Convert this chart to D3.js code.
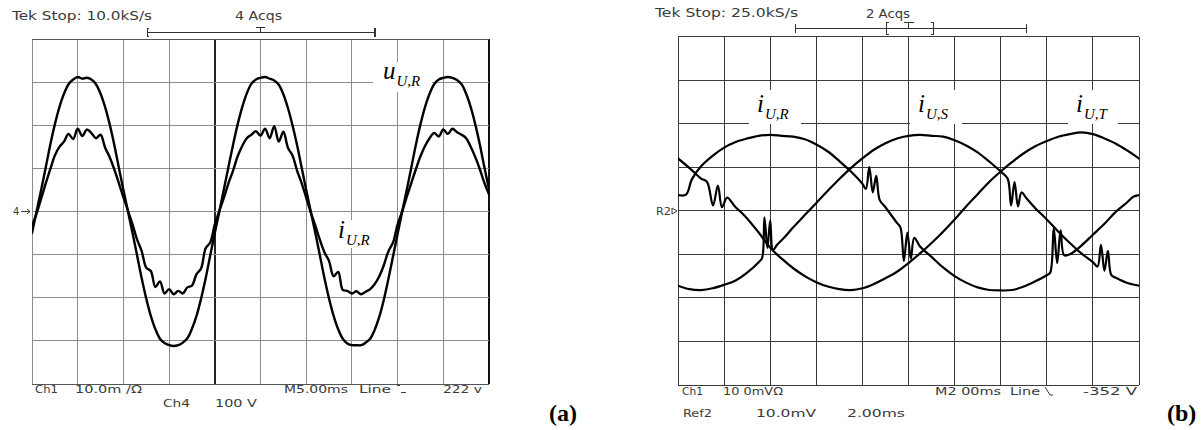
<!DOCTYPE html>
<html><head><meta charset="utf-8">
<script src="https://cdn.jsdelivr.net/npm/d3@7"></script>
<style>html,body{margin:0;padding:0;background:#fff;} svg{display:block}</style>
</head><body><svg id="c" width="1202" height="430"></svg>
<script>
// ---------------- DATA (values in scope divisions) ----------------
// Panel (a): sample step 0.5 ms, 0..50 ms
const leftStepMs = 0.5;
const leftU = [
  -0.50, 0.00, 0.50, 1.02, 1.55, 2.02, 2.42, 2.73, 2.95, 3.06, 3.12, 3.08, 3.10, 3.06, 2.95, 2.73, 2.42, 2.02, 1.55, 1.02,
   0.50, 0.00,-0.50,-1.02,-1.55,-2.02,-2.42,-2.73,-2.95,-3.05,-3.10,-3.12,-3.10,-3.04,-2.94,-2.72,-2.42,-2.02,-1.55,-1.02,
  -0.50, 0.00, 0.52, 1.04, 1.55, 2.02, 2.42, 2.74, 2.96, 3.06, 3.10, 3.12, 3.08, 3.04, 2.94, 2.72, 2.40, 2.00, 1.54, 1.02,
   0.50, 0.00,-0.50,-1.02,-1.55,-2.02,-2.42,-2.73,-2.95,-3.06,-3.10,-3.10,-3.10,-3.04,-2.95,-2.74,-2.44,-2.04,-1.56,-1.04,
  -0.52, 0.00, 0.50, 1.02, 1.55, 2.02, 2.42, 2.73, 2.95, 3.06, 3.10, 3.12, 3.10, 3.05, 2.95, 2.73, 2.42, 2.02, 1.55, 1.02, 0.52
];
const leftI = [
  -0.33,-0.05, 0.30, 0.65, 0.98, 1.30, 1.50, 1.62, 1.80, 1.68, 1.92, 1.75, 1.90, 1.82, 1.70, 1.78, 1.48, 1.26, 0.98, 0.66,
   0.33, 0.02,-0.30,-0.65,-0.92,-1.30,-1.38,-1.75,-1.62,-1.90,-1.80,-1.92,-1.84,-1.90,-1.76,-1.72,-1.45,-1.32,-0.85,-0.72,
  -0.30, 0.02, 0.32, 0.66, 0.95, 1.28, 1.52, 1.70, 1.78, 1.86, 1.76, 1.92, 1.70, 1.98, 1.62, 1.85, 1.48, 1.30, 0.95, 0.66,
   0.32,-0.02,-0.33,-0.66,-0.95,-1.15,-1.50,-1.40,-1.82,-1.84,-1.90,-1.85,-1.92,-1.86,-1.80,-1.68,-1.50,-1.24,-0.92,-0.72,
  -0.30, 0.00, 0.34, 0.66, 0.98, 1.28, 1.52, 1.70, 1.82, 1.74, 1.90, 1.80, 1.92, 1.84, 1.78, 1.70, 1.50, 1.26, 0.98, 0.66, 0.40
];
// Panel (b): [time ms, divisions], 0..20 ms
const rightIUR = [[0,0.36],[0.35,0.37],[0.6,0.72],[1,1.02],[1.5,1.26],[2,1.45],[2.5,1.58],[3,1.66],[3.5,1.72],[4,1.74],[4.5,1.72],
  [5,1.70],[5.5,1.64],[6,1.52],[6.5,1.36],[7,1.14],[7.5,0.9],[8,0.62],[8.15,0.5],[8.3,1.0],[8.45,0.42],[8.6,0.8],[8.75,0.25],
  [9,0.08],[9.5,-0.28],[9.65,-0.38],[9.8,-1.15],[9.95,-0.5],[10.1,-1.1],[10.25,-0.62],[10.5,-0.82],[11,-1.06],[11.5,-1.3],
  [12,-1.5],[12.5,-1.65],[13,-1.76],[13.5,-1.82],[14,-1.83],[14.5,-1.82],[15,-1.74],[15.5,-1.62],[16,-1.48],[16.15,-1.42],
  [16.3,-0.4],[16.45,-1.2],[16.6,-0.45],[16.75,-1.02],[17,-1.0],[17.5,-0.8],[18,-0.55],[18.5,-0.3],[19,-0.02],[19.5,0.2],[19.75,0.32],[20,0.36]];
const rightIUS = [[0,-1.72],[0.5,-1.8],[1,-1.82],[1.5,-1.78],[2,-1.7],[2.5,-1.6],[3,-1.42],[3.5,-1.18],[3.65,-1.08],[3.75,-0.15],
  [3.88,-0.85],[4.0,-0.22],[4.12,-0.9],[4.3,-0.78],[4.6,-0.62],[5,-0.38],[5.5,-0.1],[6,0.18],[6.5,0.46],[7,0.73],[7.5,0.98],
  [8,1.2],[8.5,1.4],[9,1.55],[9.5,1.66],[10,1.72],[10.5,1.74],[11,1.72],[11.5,1.7],[12,1.62],[12.5,1.5],[13,1.34],[13.5,1.13],
  [14,0.9],[14.3,0.74],[14.45,0.12],[14.6,0.66],[14.75,0.1],[14.9,0.42],[15.1,0.3],[15.5,0.06],[16,-0.2],[16.5,-0.48],[17,-0.74],
  [17.5,-0.98],[18,-1.18],[18.2,-1.28],[18.35,-0.78],[18.5,-1.38],[18.65,-0.92],[18.8,-1.48],[19,-1.54],[19.5,-1.66],[20,-1.72]];
const rightIUT = [[0,1.2],[0.5,0.98],[1,0.74],[1.26,0.66],[1.52,0.12],[1.73,0.58],[1.91,0.08],[2.13,0.3],[2.47,0.1],[2.9,-0.12],
  [3.5,-0.5],[4,-0.85],[4.5,-1.1],[5,-1.32],[5.5,-1.5],[6,-1.64],[6.5,-1.74],[7,-1.8],[7.5,-1.82],[8,-1.78],[8.5,-1.68],[9,-1.55],
  [9.5,-1.4],[10,-1.2],[10.5,-0.98],[11,-0.74],[11.5,-0.48],[12,-0.2],[12.5,0.1],[13,0.38],[13.5,0.66],[14,0.9],[14.5,1.12],
  [15,1.32],[15.5,1.48],[16,1.6],[16.5,1.7],[17,1.76],[17.5,1.8],[18,1.76],[18.5,1.66],[19,1.54],[19.5,1.38],[20,1.2]];

// grid divisions
const leftTimeDivs = d3.range(0, 50.001, 5);
const rightTimeDivs = d3.range(0, 20.001, 2);
const vertDivs = d3.range(-4, 4.001, 1);

// texts
const leftHeader = ["Tek Stop: 10.0kS/s", "4 Acqs"];
const leftFooter = ["Ch1", "10.0m /\u03A9", "M5.00ms", "Line", "222 v", "Ch4", "100 V"];
const rightHeader = ["Tek Stop: 25.0kS/s", "2 Acqs"];
const rightFooter = ["Ch1", "10 0mV\u03A9", "M2 00ms", "Line", "-352 V", "Ref2", "10.0mV", "2.00ms"];
const traceLabels = [["u", "U,R"], ["i", "U,R"], ["i", "U,R"], ["i", "U,S"], ["i", "U,T"]];
const panelTags = ["(a)", "(b)"];
const markers = ["4", "R2"];

// ---------------- DRAW ----------------
const svg = d3.select("#c");
const xL = d3.scaleLinear().domain([0, 50]).range([32, 489]);
const yL = d3.scaleLinear().domain([-4, 4]).range([384, 39]);
const xR = d3.scaleLinear().domain([0, 20]).range([678, 1139]);
const yR = d3.scaleLinear().domain([-4, 4]).range([385, 36.5]);

const scopeFill = "#3a3a3a";
function scopeText(str, x, y, len, size) {
  svg.append("text").attr("x", x).attr("y", y).text(str)
    .attr("font-family", "DejaVu Sans").attr("font-size", size).attr("fill", scopeFill)
    .attr("textLength", len).attr("lengthAdjust", "spacingAndGlyphs");
}

// Left grid
const gL = svg.append("g").attr("shape-rendering", "crispEdges");
gL.selectAll("line.v").data(leftTimeDivs).join("line")
  .attr("x1", d => xL(d)).attr("x2", d => xL(d)).attr("y1", yL(4)).attr("y2", yL(-4))
  .attr("stroke", d => d === 20 ? "#222" : (d === 50 ? "#111" : "#8d8d8d"))
  .attr("stroke-width", d => (d === 20 || d === 50) ? 2 : 1);
gL.selectAll("line.h").data(vertDivs).join("line")
  .attr("x1", xL(0)).attr("x2", xL(50)).attr("y1", d => yL(d)).attr("y2", d => yL(d))
  .attr("stroke", d => Math.abs(d) === 4 ? "#555" : "#8d8d8d").attr("stroke-width", 1);

// Right grid
const gR = svg.append("g").attr("shape-rendering", "crispEdges");
gR.selectAll("line.v").data(rightTimeDivs).join("line")
  .attr("x1", d => xR(d)).attr("x2", d => xR(d)).attr("y1", yR(4)).attr("y2", yR(-4))
  .attr("stroke", "#3a3a3a").attr("stroke-width", 1);
gR.selectAll("line.h").data(vertDivs).join("line")
  .attr("x1", xR(0)).attr("x2", xR(20)).attr("y1", d => yR(d)).attr("y2", d => yR(d))
  .attr("stroke", "#3a3a3a").attr("stroke-width", 1);

// label backgrounds
const bg = svg.append("g").attr("fill", "#fff");
bg.append("rect").attr("x", 373).attr("y", 62).attr("width", 59).attr("height", 30);
bg.append("rect").attr("x", 333).attr("y", 220).attr("width", 42).attr("height", 28);
bg.append("rect").attr("x", 749).attr("y", 90).attr("width", 52).attr("height", 34);
bg.append("rect").attr("x", 910).attr("y", 90).attr("width", 52).attr("height", 34);
bg.append("rect").attr("x", 1068).attr("y", 90).attr("width", 50).attr("height", 34);

// clip paths
const defs = svg.append("defs");
defs.append("clipPath").attr("id", "clipL").append("rect")
  .attr("x", xL(0)).attr("y", yL(4)).attr("width", xL(50) - xL(0)).attr("height", yL(-4) - yL(4));
defs.append("clipPath").attr("id", "clipR").append("rect")
  .attr("x", xR(0)).attr("y", yR(4)).attr("width", xR(20) - xR(0)).attr("height", yR(-4) - yR(4));

const leftSeries = [leftU, leftI].map(arr => arr.map((v, k) => [k * leftStepMs, v]));
const lineL = d3.line().x(d => xL(d[0])).y(d => yL(d[1])).curve(d3.curveCatmullRom.alpha(0.5));
svg.append("g").attr("clip-path", "url(#clipL)").selectAll("path").data(leftSeries).join("path")
  .attr("d", lineL).attr("fill", "none").attr("stroke", "#000").attr("stroke-width", 2.4)
  .attr("stroke-linejoin", "round").attr("stroke-linecap", "round");

const lineR = d3.line().x(d => xR(d[0])).y(d => yR(d[1])).curve(d3.curveCatmullRom.alpha(0.5));
svg.append("g").attr("clip-path", "url(#clipR)").selectAll("path").data([rightIUR, rightIUS, rightIUT]).join("path")
  .attr("d", lineR).attr("fill", "none").attr("stroke", "#000").attr("stroke-width", 2.2)
  .attr("stroke-linejoin", "round").attr("stroke-linecap", "round");

// trace labels (italic serif with subscripts)
function mathLabel(lbl, x, y, subDx, subDy, size, subSize) {
  const t = svg.append("text").attr("x", x).attr("y", y)
    .attr("font-family", "Liberation Serif, Times New Roman, serif").attr("font-style", "italic").attr("fill", "#000");
  t.append("tspan").attr("font-size", size).text(lbl[0]);
  t.append("tspan").attr("font-size", subSize).attr("dx", subDx).attr("dy", subDy).text(lbl[1]);
}
mathLabel(traceLabels[0], 383, 79, 1, 7, 25, 15);
mathLabel(traceLabels[1], 338, 238, 1, 7, 25, 15);
mathLabel(traceLabels[2], 757, 112, 1, 7, 25, 15);
mathLabel(traceLabels[3], 918, 112, 1, 7, 25, 15);
mathLabel(traceLabels[4], 1076, 112, 1, 7, 25, 15);

// headers
scopeText(leftHeader[0], 12, 20, 140, 12);
scopeText(leftHeader[1], 235, 20, 47, 12);
scopeText(rightHeader[0], 655, 17, 143, 12);
scopeText(rightHeader[1], 866, 18, 44, 12);

// trigger brackets
const br = svg.append("g").attr("stroke", "#333").attr("fill", "none").attr("shape-rendering", "crispEdges");
br.append("line").attr("x1", 147).attr("x2", 375).attr("y1", 32.5).attr("y2", 32.5);
br.append("path").attr("d", "M149,28.5 h-2 v8 h2");
br.append("line").attr("x1", 375).attr("x2", 375).attr("y1", 28).attr("y2", 37).attr("stroke-width", 2);
br.append("path").attr("d", "M256,27.5 h9 M260.5,27.5 v5");
br.append("line").attr("x1", 795).attr("x2", 1027).attr("y1", 28.5).attr("y2", 28.5);
br.append("line").attr("x1", 795.5).attr("x2", 795.5).attr("y1", 24).attr("y2", 33);
br.append("line").attr("x1", 1026.5).attr("x2", 1026.5).attr("y1", 24).attr("y2", 33);
br.append("path").attr("d", "M889,22.5 h-2.5 v12 h2.5 M931,22.5 h2.5 v12 h-2.5 M904,22.5 h10 M908.5,22.5 v6");

// ground / reference markers
svg.append("text").attr("x", 13).attr("y", 215).text(markers[0]).attr("font-family", "DejaVu Sans")
  .attr("font-size", 10).attr("fill", scopeFill);
svg.append("path").attr("d", "M21,211.5 h9 M27,209 l3,2.5 l-3,2.5").attr("stroke", scopeFill).attr("fill", "none");
svg.append("text").attr("x", 656).attr("y", 215).text(markers[1]).attr("font-family", "DejaVu Sans")
  .attr("font-size", 10).attr("fill", scopeFill).attr("textLength", 15).attr("lengthAdjust", "spacingAndGlyphs");
svg.append("path").attr("d", "M672,208 l5,3 l-5,3 z").attr("stroke", scopeFill).attr("fill", "none");

// footers left
scopeText(leftFooter[0], 35, 393, 23, 11);
scopeText(leftFooter[1], 75, 393, 67, 11);
scopeText(leftFooter[2], 284, 393, 64, 11);
scopeText(leftFooter[3], 359, 393, 32, 11);
svg.append("path").attr("d", "M397,385.5 h3 M401,392.5 h5").attr("stroke", scopeFill).attr("fill", "none");
scopeText(leftFooter[4], 443, 393, 39, 11);
scopeText(leftFooter[5], 163, 407, 27, 11);
scopeText(leftFooter[6], 215, 407, 42, 11);
// footers right
scopeText(rightFooter[0], 682, 395, 21, 11);
scopeText(rightFooter[1], 723, 395, 60, 11);
scopeText(rightFooter[2], 935, 395, 66, 11);
scopeText(rightFooter[3], 1010, 395, 30, 11);
svg.append("path").attr("d", "M1045,387 l5,8 h3").attr("stroke", scopeFill).attr("fill", "none");
scopeText(rightFooter[4], 1083, 395, 54, 11);
scopeText(rightFooter[5], 683, 417, 29, 11);
scopeText(rightFooter[6], 756, 417, 60, 11);
scopeText(rightFooter[7], 847, 417, 58, 11);

// panel tags
svg.selectAll("text.tag").data(panelTags).join("text")
  .attr("x", (d, k) => k === 0 ? 549 : 1167).attr("y", 421).text(d => d)
  .attr("font-family", "Liberation Serif, Times New Roman, serif").attr("font-weight", "bold")
  .attr("font-size", 24).attr("fill", "#000");
</script></body></html>
